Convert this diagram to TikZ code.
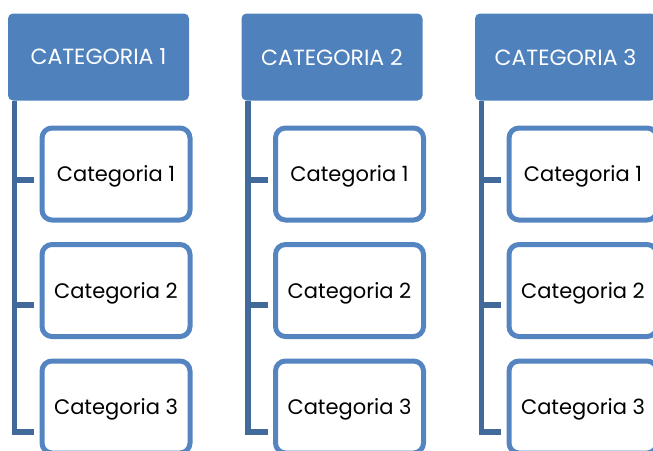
\documentclass[tikz,border=0pt]{standalone}
\usepackage{fontspec}
\setmainfont{Poppins}
\definecolor{hdrblue}{HTML}{4F81BD}
\definecolor{barblue}{HTML}{41699A}
\definecolor{boxblue}{HTML}{5485C1}
\tikzset{
  header/.style={fill=hdrblue, text=white, rounded corners=5pt, minimum width=181pt, minimum height=87pt, inner sep=0pt, text depth=0pt, font=\fontsize{22}{26}\selectfont},
  child/.style={draw=boxblue, fill=white, line width=5pt, rounded corners=10pt, minimum width=148pt, minimum height=92pt, inner sep=0pt, text depth=0pt, text=black, font=\fontsize{21}{25}\selectfont},
  barline/.style={draw=barblue, line width=5.5pt, line cap=butt, line join=miter}
}
\begin{document}
\begin{tikzpicture}[x=1pt,y=-1pt]
\useasboundingbox (0,0) rectangle (653,450);
\clip (0,0) rectangle (653,450);
\foreach \i/\dx in {1/0,2/233.5,3/467}{
  \node[header] (h\i) at (98.5+\dx,57) {CATEGORIA \i};
  \node[child] (c\i1) at (116+\dx,174) {Categoria 1};
  \node[child] (c\i2) at (116+\dx,290.5) {Categoria 2};
  \node[child] (c\i3) at (116+\dx,407) {Categoria 3};
  \coordinate (top\i) at (14.5+\dx,101);
  \coordinate (bot\i) at (14.5+\dx,432);
  \coordinate (bar\i1) at (14.5+\dx,180);
  \coordinate (bar\i2) at (14.5+\dx,305);
  \coordinate (tick\i1) at (34+\dx,180);
  \coordinate (tick\i2) at (34+\dx,305);
  \coordinate (tick\i3) at (34+\dx,432);
  \draw[barline] (top\i) -- (bot\i) -- (tick\i3);
  \draw[barline] (bar\i1) -- (tick\i1);
  \draw[barline] (bar\i2) -- (tick\i2);
}
\end{tikzpicture}
\end{document}
